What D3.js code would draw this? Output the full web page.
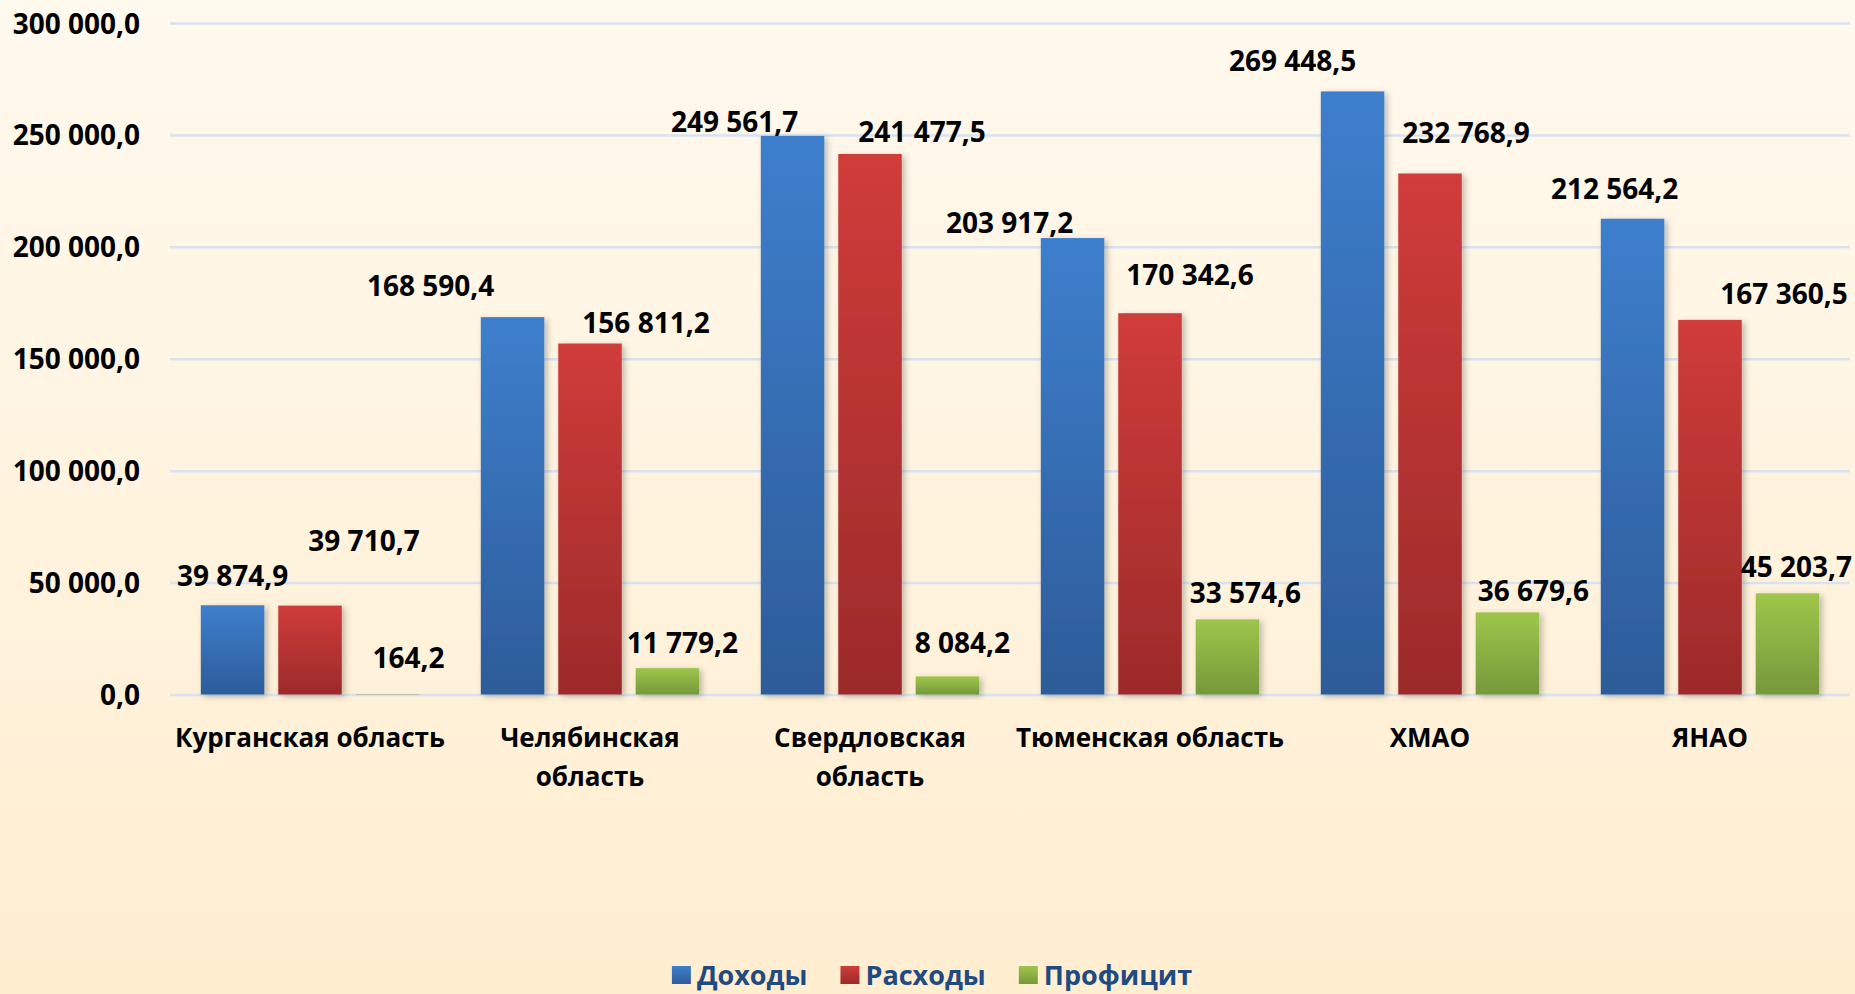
<!DOCTYPE html>
<html lang="ru">
<head>
<meta charset="utf-8">
<script src="https://cdn.jsdelivr.net/npm/d3@7"></script>
<style>
  html, body { margin: 0; padding: 0; }
  body { width: 1855px; height: 994px; overflow: hidden; }
  svg text { font-family: "Open Sans", "DejaVu Sans", sans-serif; font-weight: 700; }
</style>
</head>
<body>
<div id="container"></div>
<script>
// regions (a "\n" marks where the axis label wraps)
const categories = ["Курганская область", "Челябинская\nобласть", "Свердловская\nобласть",
  "Тюменская область", "ХМАО", "ЯНАО"];
const seriesNames = ["Доходы", "Расходы", "Профицит"];
const income   = [39874.9, 168590.4, 249561.7, 203917.2, 269448.5, 212564.2];
const expenses = [39710.7, 156811.2, 241477.5, 170342.6, 232768.9, 167360.5];
const surplus  = [164.2, 11779.2, 8084.2, 33574.6, 36679.6, 45203.7];
const yTicks = [0, 50000, 100000, 150000, 200000, 250000, 300000];

// hand placed data labels, like in the original (dx from bar centre, dy from bar top)
const labelNudge = [
  [[0, -19], [-82, -21], [-58, -4], [-63, -5], [-60, -20], [-18, -20]],
  [[54, -55], [56, -11], [52, -12], [40, -28], [36, -30], [74, -16]],
  [[21, -26], [15, -15], [15, -23], [18, -16], [26, -11], [9, -16]]
];

const colors = [
  ["#3e7fcd", "#2d5c99"],
  ["#d03c3a", "#9c2a2a"],
  ["#9ec64b", "#76983a"]
];
const legendColor = "#1f4a82";

const values = [income, expenses, surplus];
const w = 1855, h = 994;
const plotLeft = 170, plotRight = 1850, plotTop = 23, plotBottom = 694.5;

const ru = d3.formatLocale({ decimal: ",", thousands: " ", grouping: [3], currency: ["", ""] });
const fmt = ru.format(",.1f");

const svg = d3.select("#container")
  .append("svg")
  .attr("width", w)
  .attr("height", h);

const defs = svg.append("defs");

// background
const bg = defs.append("linearGradient")
  .attr("id", "bg").attr("x1", 0).attr("y1", 0).attr("x2", 0).attr("y2", 1);
bg.append("stop").attr("offset", 0).attr("stop-color", "#fff9ee");
bg.append("stop").attr("offset", 1).attr("stop-color", "#ffeed0");
svg.append("rect").attr("width", w).attr("height", h).attr("fill", "url(#bg)");

colors.forEach((c, i) => {
  const g = defs.append("linearGradient")
    .attr("id", "bar" + i).attr("x1", 0).attr("y1", 0).attr("x2", 0).attr("y2", 1);
  g.append("stop").attr("offset", 0).attr("stop-color", c[0]);
  g.append("stop").attr("offset", 1).attr("stop-color", c[1]);
});

defs.append("filter")
  .attr("id", "shadow").attr("x", "-20%").attr("y", "-20%").attr("width", "150%").attr("height", "150%")
  .append("feDropShadow")
  .attr("dx", 3).attr("dy", 2).attr("stdDeviation", 3)
  .attr("flood-color", "#000").attr("flood-opacity", 0.25);

//SCALES
const x0 = d3.scaleBand()
  .domain(categories)
  .range([plotLeft, plotRight])
  .paddingInner(0.22)
  .paddingOuter(0.11);

const x1 = d3.scaleBand()
  .domain(seriesNames)
  .range([0, x0.bandwidth()])
  .paddingInner(0.18);

const y = d3.scaleLinear()
  .domain([0, 300000])
  .range([plotBottom, plotTop]);

//GRID
svg.append("g")
  .attr("transform", `translate(${plotLeft},0)`)
  .call(d3.axisLeft(y).tickValues(yTicks).tickSize(-(plotRight - plotLeft)).tickFormat(""))
  .call(g => g.select(".domain").remove())
  .call(g => g.selectAll("line").attr("stroke", "#d5e3f2").attr("stroke-width", 2.5));

//Y AXIS
svg.append("g")
  .attr("transform", `translate(${plotLeft},0)`)
  .call(d3.axisLeft(y).tickValues(yTicks).tickSize(0).tickPadding(30).tickFormat(fmt))
  .call(g => g.select(".domain").remove())
  .call(g => g.selectAll("text")
    .attr("fill", "#000")
    .attr("dy", null)
    .attr("y", 10)
    .style("font-size", "28px"));

//BARS
const rows = [];
seriesNames.forEach((s, si) => {
  categories.forEach((c, ci) => {
    rows.push({ s, si, c, ci, v: values[si][ci] });
  });
});

svg.append("g")
  .selectAll("rect")
  .data(rows)
  .enter()
  .append("rect")
  .attr("x", d => x0(d.c) + x1(d.s))
  .attr("y", d => y(d.v))
  .attr("width", x1.bandwidth())
  .attr("height", d => y(0) - y(d.v))
  .attr("fill", d => `url(#bar${d.si})`)
  .attr("filter", d => (y(0) - y(d.v) > 2 ? "url(#shadow)" : null));

//DATA LABELS
svg.append("g")
  .selectAll("text")
  .data(rows)
  .enter()
  .append("text")
  .attr("x", d => x0(d.c) + x1(d.s) + x1.bandwidth() / 2 + labelNudge[d.si][d.ci][0])
  .attr("y", d => y(d.v) + labelNudge[d.si][d.ci][1])
  .attr("text-anchor", "middle")
  .style("font-size", "28px")
  .attr("fill", "#000")
  .text(d => fmt(d.v));

//CATEGORY LABELS
const cat = svg.append("g")
  .selectAll("text")
  .data(categories)
  .enter()
  .append("text")
  .attr("text-anchor", "middle")
  .attr("x", d => x0(d) + x0.bandwidth() / 2)
  .attr("y", 747)
  .style("font-size", "26px")
  .attr("fill", "#000");
cat.each(function (d) {
  const t = d3.select(this);
  d.split("\n").forEach((line, i) => {
    t.append("tspan")
      .attr("x", x0(d) + x0.bandwidth() / 2)
      .attr("dy", i === 0 ? 0 : 39)
      .text(line);
  });
});

//LEGEND
const legend = svg.append("g");
let lx = 0;
seriesNames.forEach((s, i) => {
  const item = legend.append("g").attr("transform", `translate(${lx},0)`);
  item.append("rect")
    .attr("x", 0).attr("y", -19)
    .attr("width", 19).attr("height", 18)
    .attr("fill", `url(#bar${i})`);
  const t = item.append("text")
    .attr("x", 25).attr("y", 0)
    .style("font-size", "27px")
    .attr("fill", legendColor)
    .text(s);
  lx += 25 + t.node().getComputedTextLength() + 33;
});
const lw = lx - 33;
legend.attr("transform", `translate(${932 - lw / 2},985)`);
</script>
</body>
</html>
